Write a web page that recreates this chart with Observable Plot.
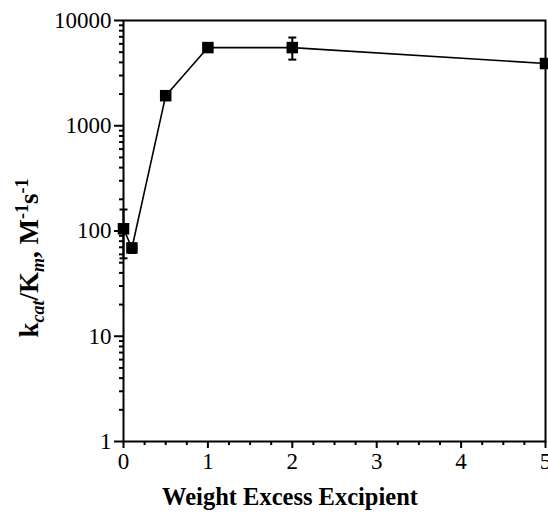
<!DOCTYPE html>
<html><head><meta charset="utf-8">
<script src="https://cdn.jsdelivr.net/npm/d3@7"></script>
<script src="https://cdn.jsdelivr.net/npm/@observablehq/plot@0.6"></script>
<style>body{margin:0;background:#fff;} svg{display:block;} svg text{font-family:"Liberation Serif","Times New Roman",serif;}</style>
</head><body><div id="chart"></div>
<script>
const excess = [0, 0.1, 0.5, 1, 2, 5];
const kcatKm = [105, 69, 1930, 5530, 5530, 3900];
const errLow = [55, 62, 1800, 5200, 4250, 3700];
const errHigh = [160, 76, 2050, 5900, 6890, 4100];
const yMajor = [1, 10, 100, 1000, 10000];
const yMinor = [0,1,2,3].flatMap(k => [2,3,4,5,6,7,8,9].map(m => m * 10 ** k));
const xMajor = [0, 1, 2, 3, 4, 5];
const xMinor = [0.25,0.5,0.75,1.25,1.5,1.75,2.25,2.5,2.75,3.25,3.5,3.75,4.25,4.5,4.75];

const data = excess.map((x, i) => ({x, y: kcatKm[i], lo: errLow[i], hi: errHigh[i]}));
const cap = {draw(ctx, size) { const r = 4; ctx.moveTo(-r, 0); ctx.lineTo(r, 0); }};
const font = "'Liberation Serif', 'Times New Roman', serif";

const plot = Plot.plot({
  width: 548, height: 512,
  marginLeft: 123, marginRight: 3, marginTop: 20, marginBottom: 71,
  style: {fontFamily: font, fontSize: "23px", color: "black", background: "white"},
  x: {domain: [0, 5]},
  y: {type: "log", domain: [1, 10000]},
  marks: [
    Plot.frame({stroke: "black", strokeWidth: 2}),
    Plot.axisY({ticks: yMinor, tickSize: 4, text: null, strokeWidth: 2, label: null}),
    Plot.axisY({ticks: yMajor, tickSize: 9, tickPadding: 3, tickFormat: d => String(d), strokeWidth: 2, label: null, fontSize: 23, fontFamily: font}),
    Plot.axisX({ticks: xMinor, tickSize: 4, text: null, strokeWidth: 2, label: null}),
    Plot.axisX({ticks: xMajor, tickSize: 7, tickPadding: 4, tickFormat: d => String(d), strokeWidth: 2, label: null, fontSize: 23, fontFamily: font}),
    Plot.ruleX(data, {x: "x", y1: "lo", y2: "hi", stroke: "black", strokeWidth: 2}),
    Plot.dot(data, {x: "x", y: "lo", symbol: cap, stroke: "black", strokeWidth: 2}),
    Plot.dot(data, {x: "x", y: "hi", symbol: cap, stroke: "black", strokeWidth: 2}),
    Plot.line(data, {x: "x", y: "y", stroke: "black", strokeWidth: 1.6}),
    Plot.dot(data, {x: "x", y: "y", symbol: "square", r: 6.5, fill: "black"})
  ]
});

const svg = d3.select(plot);
// x-axis title
svg.append("text")
  .attr("x", 290).attr("y", 505)
  .attr("text-anchor", "middle")
  .attr("font-family", font).attr("font-weight", "bold").attr("font-size", 24.5)
  .text("Weight Excess Excipient");
// y-axis title with sub/superscripts
const yt = svg.append("text")
  .attr("transform", "translate(38,258) rotate(-90)")
  .attr("text-anchor", "middle")
  .attr("font-family", font).attr("font-weight", "bold").attr("font-size", 27);
yt.append("tspan").text("k");
yt.append("tspan").attr("font-size", 18).attr("font-style", "italic").attr("dy", 6).text("cat");
yt.append("tspan").attr("dy", -6).text("/K");
yt.append("tspan").attr("font-size", 18).attr("font-style", "italic").attr("dy", 6).text("m");
yt.append("tspan").attr("dy", -6).text(", M");
yt.append("tspan").attr("font-size", 18).attr("dy", -10).text("-1");
yt.append("tspan").attr("dy", 10).text("s");
yt.append("tspan").attr("font-size", 18).attr("dy", -10).text("-1");

document.getElementById("chart").appendChild(plot);
</script>
</body></html>
